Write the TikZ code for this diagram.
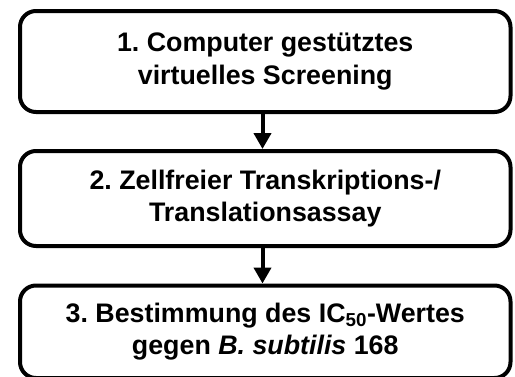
\documentclass[tikz,border=0pt]{standalone}
\usepackage{fontspec}
\setmainfont{Liberation Sans}
\usetikzlibrary{arrows.meta}
\frenchspacing
\tikzset{
  stagebox/.style={draw=black, line width=4pt, rounded corners=16pt,
    fill=white, minimum width=490.5pt, align=center, inner sep=0pt,
    font=\fontsize{26.8}{32.5}\selectfont\bfseries},
  flowarrow/.style={line width=4pt,
    -{Triangle[width=17pt,length=16pt]}}
}
\begin{document}
\begin{tikzpicture}[x=1pt,y=-1pt]
  \useasboundingbox (0,0) rectangle (515,376);
  \node[stagebox, minimum height=101pt] (s1) at (265.25,61.5)
    {1. Computer gestütztes\\virtuelles Screening};
  \node[stagebox, minimum height=95pt] (s2) at (265.25,198.5)
    {2. Zellfreier Transkriptions-/\\Translationsassay};
  \node[stagebox, minimum height=92.5pt] (s3) at (265.25,331.75)
    {3. Bestimmung des IC\textsubscript{50}-Wertes\\gegen \textit{B. subtilis} 168};
  \draw[flowarrow] (s1.south -| 262.5,0) -- (s2.north -| 262.5,0);
  \draw[flowarrow] (s2.south -| 262.5,0) -- (s3.north -| 262.5,0);
\end{tikzpicture}
\end{document}
